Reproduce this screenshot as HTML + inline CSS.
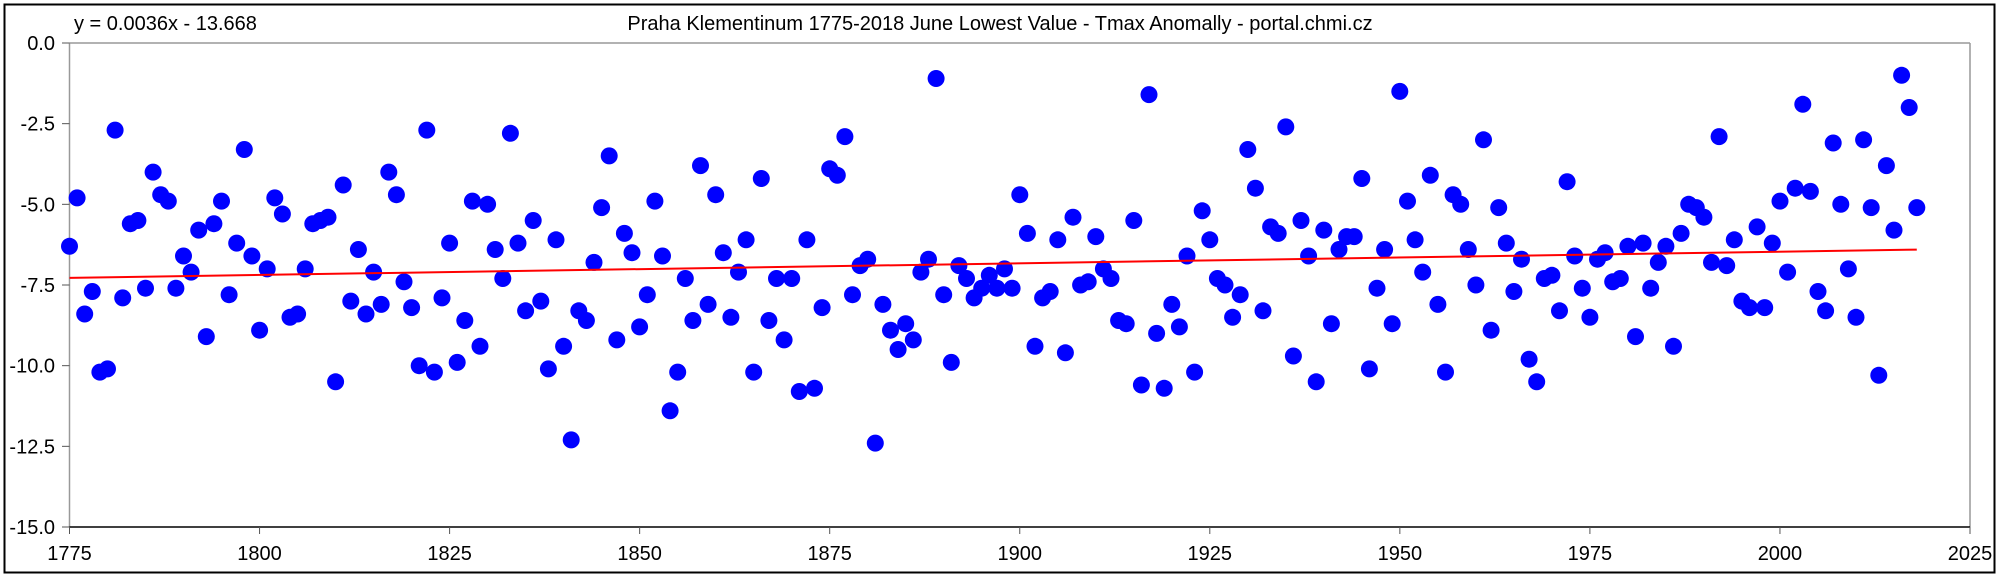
<!DOCTYPE html>
<html><head><meta charset="utf-8"><style>html,body{margin:0;padding:0;background:#fff}svg{display:block}</style></head>
<body>
<svg id="s" width="2000" height="577" xmlns="http://www.w3.org/2000/svg" font-family="Liberation Sans, Arial, sans-serif">
<rect x="4.5" y="4.5" width="1990" height="568" fill="#fff" stroke="#000" stroke-width="2"/>
<text x="74" y="30" font-size="20">y = 0.0036x - 13.668</text>
<text x="1000" y="30" font-size="20" text-anchor="middle">Praha Klementinum 1775-2018 June Lowest Value - Tmax Anomally - portal.chmi.cz</text>
<g id="g"></g>
</svg>
<script>
var d=[-6.3,-4.8,-8.4,-7.7,-10.2,-10.1,-2.7,-7.9,-5.6,-5.5,-7.6,-4.0,-4.7,-4.9,-7.6,-6.6,-7.1,-5.8,-9.1,-5.6,-4.9,-7.8,-6.2,-3.3,-6.6,-8.9,-7.0,-4.8,-5.3,-8.5,-8.4,-7.0,-5.6,-5.5,-5.4,-10.5,-4.4,-8.0,-6.4,-8.4,-7.1,-8.1,-4.0,-4.7,-7.4,-8.2,-10.0,-2.7,-10.2,-7.9,-6.2,-9.9,-8.6,-4.9,-9.4,-5.0,-6.4,-7.3,-2.8,-6.2,-8.3,-5.5,-8.0,-10.1,-6.1,-9.4,-12.3,-8.3,-8.6,-6.8,-5.1,-3.5,-9.2,-5.9,-6.5,-8.8,-7.8,-4.9,-6.6,-11.4,-10.2,-7.3,-8.6,-3.8,-8.1,-4.7,-6.5,-8.5,-7.1,-6.1,-10.2,-4.2,-8.6,-7.3,-9.2,-7.3,-10.8,-6.1,-10.7,-8.2,-3.9,-4.1,-2.9,-7.8,-6.9,-6.7,-12.4,-8.1,-8.9,-9.5,-8.7,-9.2,-7.1,-6.7,-1.1,-7.8,-9.9,-6.9,-7.3,-7.9,-7.6,-7.2,-7.6,-7.0,-7.6,-4.7,-5.9,-9.4,-7.9,-7.7,-6.1,-9.6,-5.4,-7.5,-7.4,-6.0,-7.0,-7.3,-8.6,-8.7,-5.5,-10.6,-1.6,-9.0,-10.7,-8.1,-8.8,-6.6,-10.2,-5.2,-6.1,-7.3,-7.5,-8.5,-7.8,-3.3,-4.5,-8.3,-5.7,-5.9,-2.6,-9.7,-5.5,-6.6,-10.5,-5.8,-8.7,-6.4,-6.0,-6.0,-4.2,-10.1,-7.6,-6.4,-8.7,-1.5,-4.9,-6.1,-7.1,-4.1,-8.1,-10.2,-4.7,-5.0,-6.4,-7.5,-3.0,-8.9,-5.1,-6.2,-7.7,-6.7,-9.8,-10.5,-7.3,-7.2,-8.3,-4.3,-6.6,-7.6,-8.5,-6.7,-6.5,-7.4,-7.3,-6.3,-9.1,-6.2,-7.6,-6.8,-6.3,-9.4,-5.9,-5.0,-5.1,-5.4,-6.8,-2.9,-6.9,-6.1,-8.0,-8.2,-5.7,-8.2,-6.2,-4.9,-7.1,-4.5,-1.9,-4.6,-7.7,-8.3,-3.1,-5.0,-7.0,-8.5,-3.0,-5.1,-10.3,-3.8,-5.8,-1.0,-2.0,-5.1];
var L=69.5,R=1970,T=43,B=527;
function X(y){return L+(y-1775)*(R-L)/250}
function Y(v){return T+(-v)*(B-T)/15}
var h='';
h+='<line x1="'+L+'" y1="'+T+'" x2="'+R+'" y2="'+T+'" stroke="#999" stroke-width="1.5"/>';
h+='<line x1="'+R+'" y1="'+T+'" x2="'+R+'" y2="'+B+'" stroke="#999" stroke-width="1.5"/>';
h+='<line x1="'+L+'" y1="'+T+'" x2="'+L+'" y2="'+B+'" stroke="#999" stroke-width="1.5"/>';
h+='<line x1="'+L+'" y1="'+B+'" x2="'+R+'" y2="'+B+'" stroke="#000" stroke-width="1.5"/>';
for(var i=0;i<=6;i++){var v=-2.5*i,y=Y(v);h+='<line x1="62" y1="'+y+'" x2="'+L+'" y2="'+y+'" stroke="#555"/>';
h+='<text x="55" y="'+(y+7)+'" font-size="20" text-anchor="end">'+v.toFixed(1)+'</text>';}
for(var yr=1775;yr<=2025;yr+=25){var x=X(yr);h+='<line x1="'+x+'" y1="'+B+'" x2="'+x+'" y2="'+(B+7)+'" stroke="#555"/>';
h+='<text x="'+x+'" y="'+(B+33)+'" font-size="20" text-anchor="middle">'+yr+'</text>';}
for(var k=0;k<d.length;k++){h+='<circle cx="'+X(1775+k).toFixed(1)+'" cy="'+Y(d[k]).toFixed(1)+'" r="8.5" fill="#0000ff"/>';}
h+='<line x1="'+X(1775)+'" y1="'+Y(0.0036*1775-13.668)+'" x2="'+X(2018)+'" y2="'+Y(0.0036*2018-13.668)+'" stroke="#ff0000" stroke-width="2"/>';
document.getElementById('g').innerHTML=h;
</script>
</body></html>
